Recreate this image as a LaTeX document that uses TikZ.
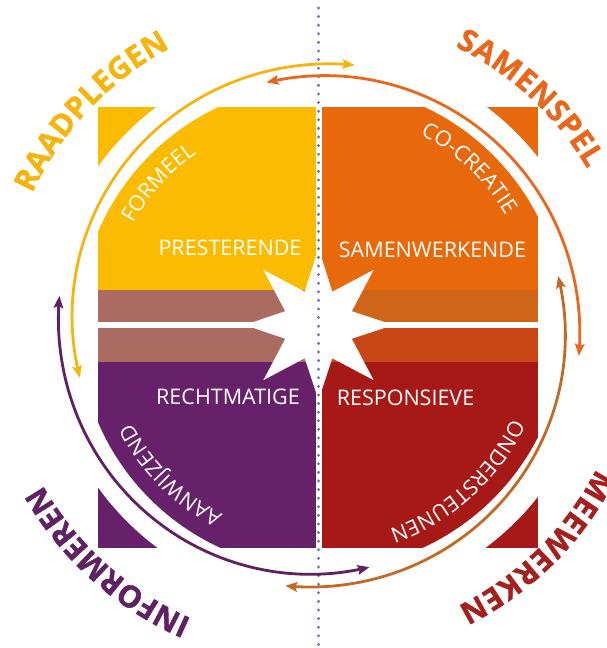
\documentclass[tikz,border=0pt]{standalone}
\usepackage{fontspec}
\setmainfont{Open Sans}
\newfontfamily\qouterfam{Open Sans}[FakeBold=1.2]
\usetikzlibrary{decorations.text, arrows.meta}
\definecolor{qyel}{HTML}{FBBB00}
\definecolor{qora}{HTML}{E8690C}
\definecolor{qpur}{HTML}{66216A}
\definecolor{qred}{HTML}{A61916}
\definecolor{bandL}{HTML}{AA6B60}
\definecolor{bandRu}{HTML}{CF6519}
\definecolor{bandRl}{HTML}{C94716}
\definecolor{cyel}{HTML}{F6B50E}
\definecolor{cora}{HTML}{E8671B}
\definecolor{cpur}{HTML}{5F2162}
\definecolor{cred}{HTML}{A61F1F}
\definecolor{cbrown}{HTML}{C26A25}
\definecolor{dotc}{HTML}{6E77B3}
\newcommand\qinnerfont{\fontsize{21.5}{24}\selectfont}
\newcommand\qouterfont{\qouterfam\bfseries\fontsize{30.5}{33}\selectfont}
\begin{document}
\begin{tikzpicture}[x=1pt,y=1pt,
  qlabel/.style={text=white, font=\qinnerfont, inner sep=0pt},
  dotline/.style={draw=dotc, line width=3.3pt, line cap=round, dash pattern=on 0pt off 8.6pt},
  arrowarc/.style={line width=2.8pt, >={Stealth[length=12pt,width=9.5pt,inset=2pt]}, <->}
]
\useasboundingbox (0,0) rectangle (606,648);
\coordinate (S) at (318.5,321);
\coordinate (CC) at (321.5,321);
\coordinate (ST) at (318.5,323);
\coordinate (dtop) at (318.5,640);
\coordinate (dbot) at (318.5,-4);
% quadrants
\fill[qyel] (98,357.5) rectangle (315.5,541);
\fill[qora] (321.5,357.5) rectangle (538,541);
\fill[bandL] (98,286) rectangle (315.5,357.5);
\fill[bandRu] (321.5,322.75) rectangle (538,357.5);
\fill[bandRl] (321.5,286) rectangle (538,322.75);
\fill[qpur] (98,100) rectangle (315.5,286);
\fill[qred] (321.5,100) rectangle (538,286);
% white ring
\fill[white, even odd rule] (CC) circle[radius=275] (CC) circle[radius=243];
% horizontal gap
\fill[white] (90,320) rectangle (546,325.5);
% star
\fill[white, shift={(ST)}] (90:77) -- (112.5:36) -- (135:78) -- (157.5:36) -- (180:74) -- (202.5:36) -- (225:78) -- (247.5:36) -- (270:75) -- (292.5:36) -- (315:78) -- (337.5:36) -- (0:75) -- (22.5:36) -- (45:78) -- (67.5:36) -- cycle;
% dotted axis
\draw[dotline] (dtop) -- (dbot);
% arcs
\draw[arrowarc, color=cyel] plot[domain=0:1, samples=100, variable=\u] ({318.5+(244+20.5*\u)*cos(192-110*\u)}, {321+(244+20.5*\u)*sin(192-110*\u)});
\draw[arrowarc, color=cora] plot[domain=0:1, samples=100, variable=\u] ({318.5+(250+12*\u)*cos(102-108.5*\u)}, {321+(250+12*\u)*sin(102-108.5*\u)});
\draw[arrowarc, color=cbrown] plot[domain=0:1, samples=100, variable=\u] ({318.5+(245+16*\u)*cos(12-109.5*\u)}, {321+(245+16*\u)*sin(12-109.5*\u)});
\draw[arrowarc, color=cpur] plot[domain=0:1, samples=100, variable=\u] ({318.5+(245.5+15.5*\u)*cos(-78-109*\u)}, {321+(245.5+15.5*\u)*sin(-78-109*\u)});
% quadrant labels
\node[qlabel] (pres) at (230,400) {PRESTERENDE};
\node[qlabel] (samw) at (432.5,398) {SAMENWERKENDE};
\node[qlabel] (recht) at (228,251) {RECHTMATIGE};
\node[qlabel] (resp) at (405.5,250) {RESPONSIEVE};
% inner curved labels
\path[decorate, decoration={text along path, text={|\qinnerfont|FORMEEL}, text align=center, text color=white}] (S) ++(170:212) arc[start angle=170, end angle=106, radius=212];
\path[decorate, decoration={text along path, text={|\qinnerfont|CO-CREATIE}, text align=center, text color=white}] (S) ++(82:218) arc[start angle=82, end angle=11, radius=218];
\path[decorate, decoration={text along path, text={|\qinnerfont|AANWIJZEND}, text align=center, text color=white}] (S) ++(262:210) arc[start angle=262, end angle=188, radius=210];
\path[decorate, decoration={text along path, text={|\qinnerfont|ONDERSTEUNEN}, text align=center, text color=white}] (S) ++(352:214) arc[start angle=352, end angle=272, radius=214];
% outer labels
\path[decorate, decoration={text along path, text={|\qouterfont|RAADPLEGEN}, text align={fit to path}, text color=cyel}] (S) ++(155:316) arc[start angle=155, end angle=118, radius=316];
\path[decorate, decoration={text along path, text={|\qouterfont|SAMENSPEL}, text align={fit to path}, text color=cora}] (S) ++(64:312) arc[start angle=64, end angle=30.5, radius=312];
\path[decorate, decoration={text along path, text={|\qouterfont|MEEWERKEN}, text align={fit to path}, text color=cred}] (S) ++(-27:312) arc[start angle=-27, end angle=-63.5, radius=312];
\path[decorate, decoration={text along path, text={|\qouterfont|INFORMEREN}, text align={fit to path}, text color=cpur}] (S) ++(246.5:318) arc[start angle=246.5, end angle=211.5, radius=318];
\end{tikzpicture}
\end{document}
